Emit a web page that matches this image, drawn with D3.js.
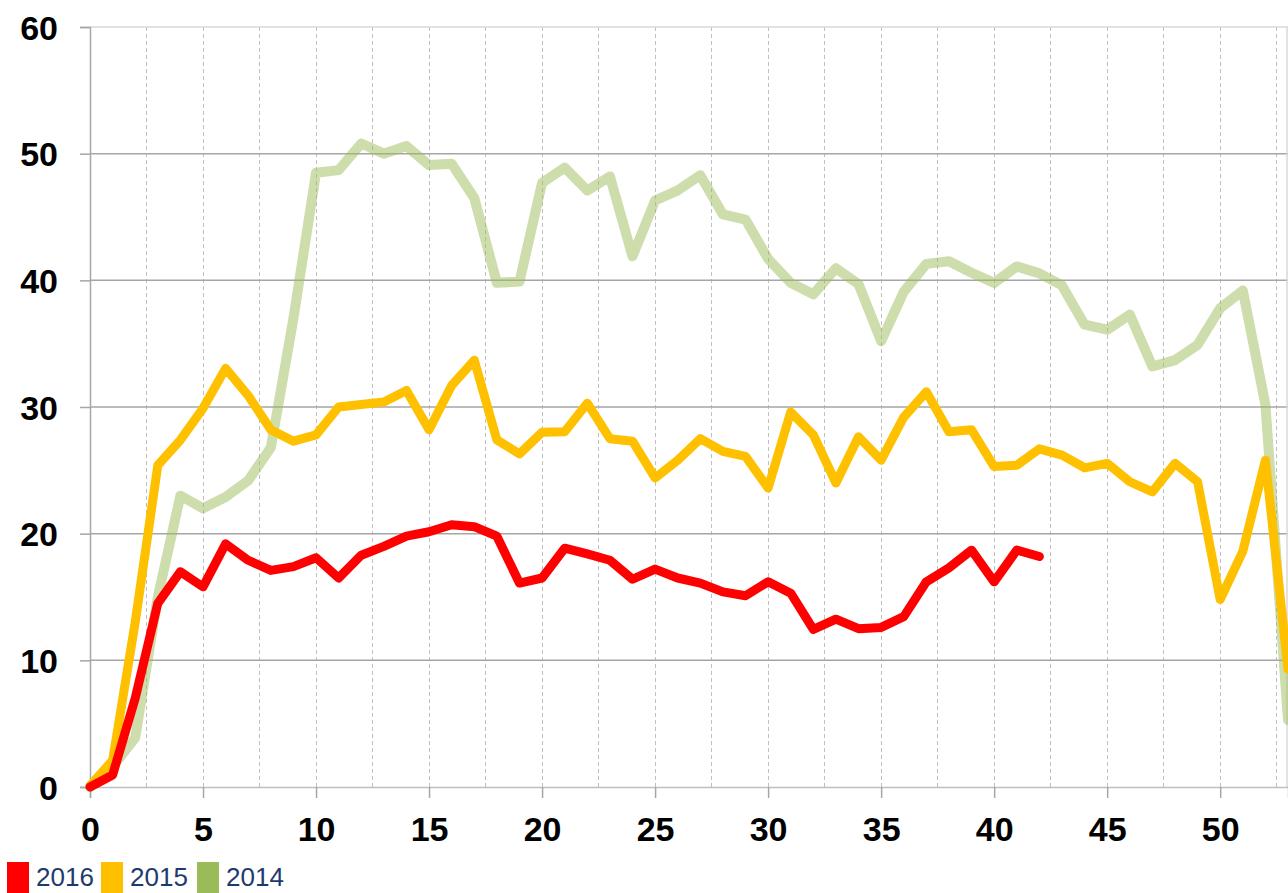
<!DOCTYPE html>
<html>
<head>
<meta charset="utf-8">
<script src="https://cdn.jsdelivr.net/npm/d3@7"></script>
<style>
  html, body { margin: 0; padding: 0; background: #fff; }
  svg { display: block; }
</style>
</head>
<body>
<svg id="chart" width="1288" height="893"></svg>
<script>
// ---- Data ----
const seriesNames = ["2016", "2015", "2014"];
const seriesColors = ["#FF0000", "#FFC000", "#9BBB59"];
const xTicks = [0, 5, 10, 15, 20, 25, 30, 35, 40, 45, 50];
const yTicks = [0, 10, 20, 30, 40, 50, 60];

const values2016 = [0, 0.95, 7.0, 14.5, 17.0, 15.8, 19.2, 17.9, 17.1, 17.4, 18.1,
  16.5, 18.3, 19.0, 19.8, 20.15, 20.7, 20.55, 19.8, 16.1, 16.5,
  18.85, 18.4, 17.9, 16.4, 17.2, 16.5, 16.1, 15.4, 15.1, 16.2,
  15.3, 12.45, 13.25, 12.5, 12.6, 13.45, 16.2, 17.3, 18.7, 16.2,
  18.7, 18.2];

const values2015 = [0.1, 2.1, 13.0, 25.4, 27.4, 29.9, 33.05, 30.9, 28.2, 27.3, 27.8,
  30.0, 30.2, 30.4, 31.3, 28.2, 31.7, 33.7, 27.4, 26.3, 28.0,
  28.05, 30.3, 27.5, 27.3, 24.4, 25.8, 27.5, 26.5, 26.1, 23.6,
  29.6, 27.8, 24.0, 27.65, 25.8, 29.2, 31.2, 28.05, 28.2, 25.3,
  25.4, 26.7, 26.2, 25.2, 25.55, 24.1, 23.3, 25.55, 24.1, 14.8,
  18.6, 25.8, 9.3];

const values2014 = [0, 1.6, 3.9, 15.0, 23.0, 22.0, 22.9, 24.2, 26.8, 37.0, 48.5,
  48.7, 50.8, 50.0, 50.6, 49.1, 49.2, 46.5, 39.8, 39.9, 47.7,
  48.9, 47.1, 48.2, 41.9, 46.3, 47.1, 48.3, 45.2, 44.8, 41.7,
  39.8, 38.9, 40.95, 39.7, 35.2, 39.1, 41.3, 41.5, 40.6, 39.8,
  41.1, 40.55, 39.6, 36.5, 36.1, 37.3, 33.2, 33.7, 34.9, 37.8,
  39.2, 30.2, 5.3];

// ---- Layout ----
const svg = d3.select("#chart");
const plotL = 90, plotR = 1288, plotT = 27, plotB = 787;

const x = d3.scaleLinear().domain([0, 53]).range([plotL, plotR]);
const y = d3.scaleLinear().domain([0, 60]).range([plotB, plotT]);

// vertical dashed gridlines every 2.5
const vGrid = d3.range(2.5, 53, 2.5);
svg.append("g").selectAll("line").data(vGrid).join("line")
  .attr("x1", d => x(d)).attr("x2", d => x(d))
  .attr("y1", plotT).attr("y2", plotB)
  .attr("stroke", "#BFBFBF").attr("stroke-width", 1)
  .attr("stroke-dasharray", "4,3")
  .attr("shape-rendering", "crispEdges");

// horizontal gridlines
svg.append("g").selectAll("line").data(yTicks.filter(d => d > 0 && d < 60)).join("line")
  .attr("x1", plotL).attr("x2", plotR)
  .attr("y1", d => y(d)).attr("y2", d => y(d))
  .attr("stroke", "#A6A6A6").attr("stroke-width", 1.5);

// top and right border
svg.append("line").attr("x1", plotL).attr("x2", plotR).attr("y1", y(60)).attr("y2", y(60))
  .attr("stroke", "#D9D9D9").attr("stroke-width", 1.5);
svg.append("line").attr("x1", plotR - 1).attr("x2", plotR - 1).attr("y1", plotT).attr("y2", plotB)
  .attr("stroke", "#D9D9D9").attr("stroke-width", 1.5);

// axes
const yAxis = d3.axisLeft(y).tickValues(yTicks).tickSize(10).tickPadding(22).tickFormat(d3.format("d"));
const gy = svg.append("g").attr("transform", `translate(${plotL},0)`).call(yAxis);
gy.select(".domain").attr("stroke", "#A6A6A6").attr("stroke-width", 1.5);
gy.selectAll(".tick line").attr("stroke", "#A6A6A6").attr("stroke-width", 1.5);
gy.selectAll(".tick text")
  .attr("font-family", "'Liberation Sans', Arial, sans-serif")
  .attr("font-weight", "bold").attr("font-size", 34).attr("fill", "#000")
  .attr("dy", "0.36em");

const xAxis = d3.axisBottom(x).tickValues(xTicks).tickSize(11).tickPadding(19).tickFormat(d3.format("d"));
const gx = svg.append("g").attr("transform", `translate(0,${plotB})`).call(xAxis);
gx.select(".domain").attr("stroke", "#BFBFBF").attr("stroke-width", 1.5);
gx.selectAll(".tick line").attr("stroke", "#A6A6A6").attr("stroke-width", 1.5);
gx.selectAll(".tick text")
  .attr("font-family", "'Liberation Sans', Arial, sans-serif")
  .attr("font-weight", "bold").attr("font-size", 34).attr("fill", "#000")
  .attr("dy", "0.71em");

// lines
const line = d3.line().x((d, i) => x(i)).y(d => y(d));
const seriesData = [
  { name: "2014", values: values2014, color: seriesColors[2], opacity: 0.5, width: 10 },
  { name: "2015", values: values2015, color: seriesColors[1], opacity: 1, width: 9 },
  { name: "2016", values: values2016, color: seriesColors[0], opacity: 1, width: 9 }
];
svg.append("g").selectAll("path").data(seriesData).join("path")
  .attr("d", d => line(d.values))
  .attr("fill", "none")
  .attr("stroke", d => d.color)
  .attr("stroke-opacity", d => d.opacity)
  .attr("stroke-width", d => d.width)
  .attr("stroke-linejoin", "round")
  .attr("stroke-linecap", "round");

// legend
const legendX = [7, 101, 197];
const lg = svg.append("g");
seriesNames.forEach((name, i) => {
  lg.append("rect").attr("x", legendX[i]).attr("y", 862).attr("width", 22).attr("height", 31)
    .attr("fill", seriesColors[i]);
  lg.append("text").attr("x", legendX[i] + 29).attr("y", 886)
    .attr("font-family", "'Liberation Sans', Arial, sans-serif")
    .attr("font-size", 26).attr("fill", "#1F3A6E").text(name);
});
</script>
</body>
</html>
